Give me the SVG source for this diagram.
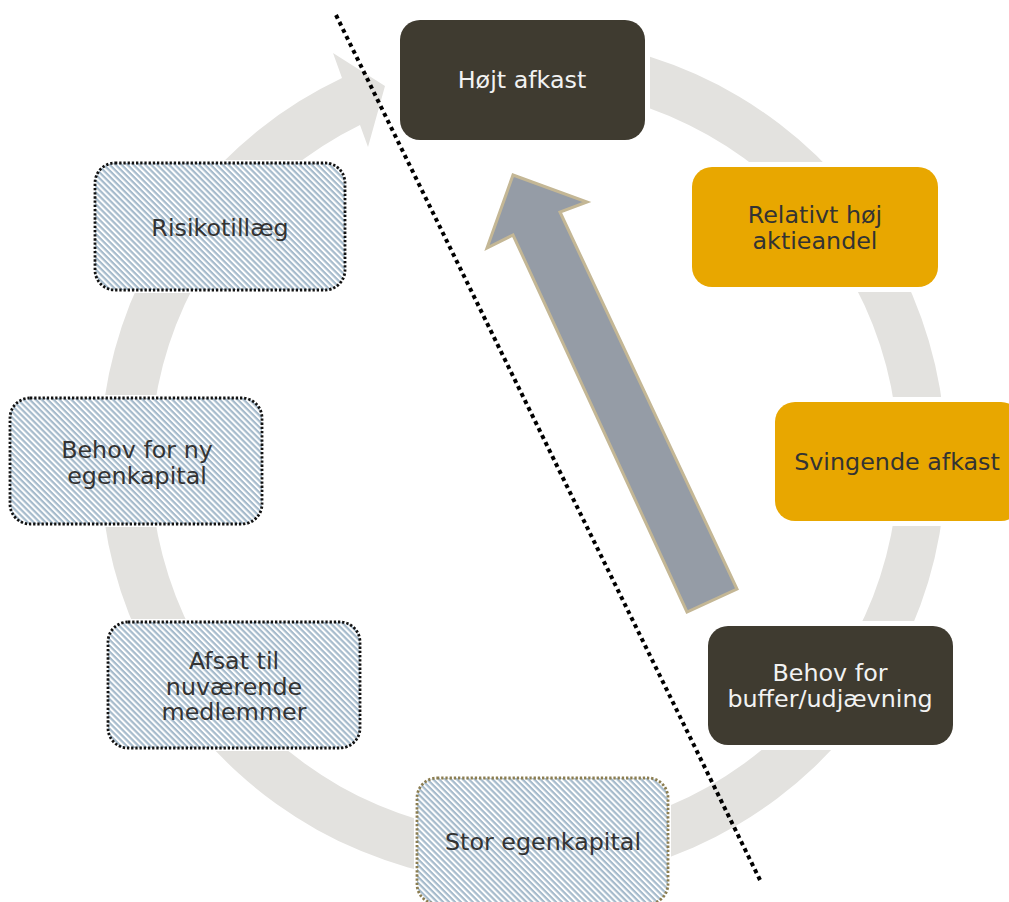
<svg xmlns="http://www.w3.org/2000/svg" width="1009" height="902" viewBox="0 0 1009 902">
<defs>
<pattern id="hatch" patternUnits="userSpaceOnUse" width="4.2" height="4.2" patternTransform="rotate(45)">
<rect width="4.2" height="4.2" fill="#ffffff"/>
<rect width="4.2" height="2.2" fill="#a6bbcc"/>
</pattern>
<style>
.t{font-family:"DejaVu Sans","Verdana",sans-serif;font-size:23.8px;text-anchor:middle}
.dk{fill:#3f3b30;stroke:#ffffff;stroke-width:10;paint-order:stroke}
.gd{fill:#e8a700;stroke:#ffffff;stroke-width:10;paint-order:stroke}
.hb{fill:url(#hatch);stroke:#ffffff;stroke-width:6;paint-order:stroke}
.dot{fill:none;stroke:#111111;stroke-width:2.8;stroke-dasharray:2.3 1.9;stroke-linecap:butt}
.lt{fill:#f2f2f2}
.dkt{fill:#333333}
</style>
</defs>
<rect width="1009" height="902" fill="#ffffff"/>
<g id="connectors">
<path id="cycle" d="M 650 56.8 A 423 423 0 1 1 342 78 L 333 53 L 385 86 L 368 147 L 360 125 A 374 374 0 1 0 650 108.6 Z" fill="#e3e2df"/>
</g>
<g id="n-hojt-afkast"><rect class="dk" x="400" y="20" width="245" height="120" rx="20"/><text class="t lt" x="522" y="88">Højt afkast</text></g>
<g id="n-relativt"><rect class="gd" x="692" y="167" width="246" height="120" rx="20"/><text class="t dkt" x="815" y="223">Relativt høj</text><text class="t dkt" x="815" y="249">aktieandel</text></g>
<g id="n-svingende"><rect class="gd" x="775" y="402" width="246" height="119" rx="20"/><text class="t dkt" x="897" y="470">Svingende afkast</text></g>
<g id="n-buffer"><rect class="dk" x="708" y="626" width="245" height="119" rx="20"/><text class="t lt" x="830" y="681">Behov for</text><text class="t lt" x="830" y="707">buffer/udjævning</text></g>
<g id="n-stor"><rect class="hb" x="417" y="778" width="251" height="126" rx="20"/><rect class="dot" x="417" y="778" width="251" height="126" rx="20" style="stroke:#8b7d50"/><text class="t dkt" x="543" y="850">Stor egenkapital</text></g>
<g id="n-afsat"><rect class="hb" x="108" y="622" width="252" height="126" rx="20"/><rect class="dot" x="108" y="622" width="252" height="126" rx="20"/><text class="t dkt" x="234" y="669">Afsat til</text><text class="t dkt" x="234" y="695">nuværende</text><text class="t dkt" x="234" y="720">medlemmer</text></g>
<g id="n-behov-ny"><rect class="hb" x="10" y="398" width="252" height="126" rx="20"/><rect class="dot" x="10" y="398" width="252" height="126" rx="20"/><text class="t dkt" x="137" y="458">Behov for ny</text><text class="t dkt" x="137" y="484">egenkapital</text></g>
<g id="n-risiko"><rect class="hb" x="95" y="163" width="250" height="127" rx="20"/><rect class="dot" x="95" y="163" width="250" height="127" rx="20"/><text class="t dkt" x="220" y="236">Risikotillæg</text></g>
<g id="big-arrow"><path d="M 513 175 L 587 202 L 560 212 L 737 589 L 687 612 L 513 235 L 487 248 Z" fill="#959ca6" stroke="#c4b795" stroke-width="3" stroke-linejoin="miter"/></g>
<g id="divider"><line x1="336" y1="15" x2="760" y2="880" stroke="#000000" stroke-width="4" stroke-dasharray="4 3.8"/></g>
</svg>
